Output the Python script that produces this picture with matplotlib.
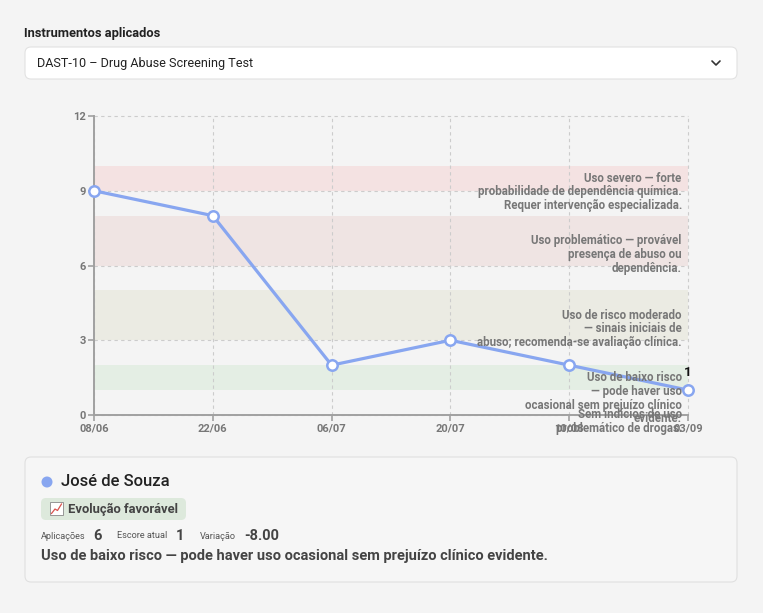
import numpy as np
import matplotlib.pyplot as plt
from matplotlib.patches import FancyBboxPatch, Circle, Rectangle

plt.rcParams['font.family'] = ['Roboto', 'DejaVu Sans']

# data
dates = ['08/06', '22/06', '06/07', '20/07', '10/08', '03/09']
scores = [9, 8, 2, 3, 2, 1]

band_lo = [0, 1, 3, 6, 9]
band_hi = [0, 2, 5, 8, 10]
band_labels = [
    'Sem indícios de uso\nproblemático de drogas.',
    'Uso de baixo risco\n— pode haver uso\nocasional sem prejuízo clínico\nevidente.',
    'Uso de risco moderado\n— sinais iniciais de\nabuso; recomenda-se avaliação clínica.',
    'Uso problemático — provável\npresença de abuso ou\ndependência.',
    'Uso severo — forte\nprobabilidade de dependência química.\nRequer intervenção especializada.',
]
band_colors = ['#f4f4f4', '#e4eee4', '#ebebe3', '#efe4e3', '#f4e2e2']

patient = 'José de Souza'
instrument = 'DAST-10 – Drug Abuse Screening Test'
status = 'Evolução favorável'
n_apps = 6
current = 1
variation = -8.00
summary = 'Uso de baixo risco — pode haver uso ocasional sem prejuízo clínico evidente.'

W, H = 763, 613
bg = '#f4f4f4'
line_color = '#88a6f0'

fig = plt.figure(figsize=(W / 100, H / 100), dpi=100, facecolor=bg)

# page layer in pixel coordinates
page = fig.add_axes([0, 0, 1, 1], zorder=0)
page.set_xlim(0, W)
page.set_ylim(H, 0)
page.axis('off')

page.text(24, 33, 'Instrumentos aplicados', fontsize=9.3, fontweight='semibold',
          color='#222222', va='center')
page.add_patch(FancyBboxPatch((25, 47), 712, 32, boxstyle='round,pad=0,rounding_size=6',
                              fc='white', ec='#e2e2e2', lw=0.8))
page.text(37, 63.5, instrument, fontsize=9.1, color='#222222', va='center')
page.plot([712, 716, 720], [61, 65, 61], color='#333333', lw=1.2, solid_capstyle='round')

# card
page.add_patch(FancyBboxPatch((25, 457), 712, 125, boxstyle='round,pad=0,rounding_size=6',
                              fc='#f6f6f6', ec='#e0e0e0', lw=0.8))
page.add_patch(Circle((47, 482), 5.5, fc=line_color, ec='none'))
page.text(61, 482, patient, fontsize=12, fontweight='medium', color='#222222', va='center')

page.add_patch(FancyBboxPatch((41, 498), 145, 22, boxstyle='round,pad=0,rounding_size=5',
                              fc='#dde9dc', ec='none'))
# small chart icon
page.add_patch(Rectangle((50, 502), 13, 13, fc='white', ec='#888888', lw=0.6))
page.plot([51.5, 55, 57.5, 61.5], [513.5, 509, 510.5, 504], color='#d9534f', lw=0.9)
page.text(68, 509, status, fontsize=9.4, fontweight='semibold', color='#444444', va='center')

page.text(41, 536, 'Aplicações', fontsize=6.6, color='#555555', va='center')
page.text(93, 536.5, str(n_apps), fontsize=10.5, fontweight='bold', color='#444444', va='center')
page.text(117, 536, 'Escore atual', fontsize=6.6, color='#555555', va='center')
page.text(176, 536.5, str(current), fontsize=10.5, fontweight='bold', color='#444444', va='center')
page.text(200, 536, 'Variação', fontsize=6.6, color='#555555', va='center')
page.text(244, 536.5, f'{variation:.2f}', fontsize=10.5, fontweight='bold', color='#444444', va='center')
page.text(41, 556, summary, fontsize=10.5, fontweight='semibold', color='#444444', va='center')

# chart
ax = fig.add_axes([94 / W, 1 - 415 / H, (688 - 94) / W, (415 - 116) / H], zorder=2)
ax.set_facecolor('none')
x = np.arange(len(dates))

for lo, hi, c in zip(band_lo, band_hi, band_colors):
    if hi > lo:
        ax.axhspan(lo, hi, color=c, lw=0, zorder=0)

ax.set_xlim(0, len(dates) - 1)
ax.set_ylim(0, 12)
ax.set_xticks(x)
ax.set_xticklabels(dates)
ax.set_yticks([0, 3, 6, 9, 12])
ax.grid(True, color='#cccccc', lw=0.8, linestyle=(0, (3, 3)), zorder=1)
ax.set_axisbelow(True)
for gl in ax.get_xgridlines() + ax.get_ygridlines():
    gl.set_clip_on(False)

for s in ['top', 'right']:
    ax.spines[s].set_visible(False)
for s in ['left', 'bottom']:
    ax.spines[s].set_color('#a0a0a0')
    ax.spines[s].set_linewidth(1.4)
ax.tick_params(colors='#a0a0a0', width=1.2, length=4, labelcolor='#777777', labelsize=8, pad=2)
for lab in ax.get_xticklabels() + ax.get_yticklabels():
    lab.set_fontweight('bold')

ax.plot(x, scores, color=line_color, lw=2.3, marker='o', markersize=7.5,
        markerfacecolor='white', markeredgecolor=line_color, markeredgewidth=1.8,
        clip_on=False, zorder=4)

for lo, hi, txt in zip(band_lo, band_hi, band_labels):
    ax.annotate(txt, xy=(x[-1], (lo + hi) / 2), xytext=(-4.5, 4.8), textcoords='offset points',
                ha='right', va='top', fontsize=8.3, fontweight='semibold', color='#777777',
                linespacing=1.08, zorder=5, annotation_clip=False)

ax.annotate(str(scores[-1]), xy=(x[-1], scores[-1]), xytext=(0, 13), textcoords='offset points',
            ha='center', va='center', fontsize=9.5, fontweight='bold', color='#111111', zorder=6)

fig.savefig('out.png', dpi=100, facecolor=bg)
